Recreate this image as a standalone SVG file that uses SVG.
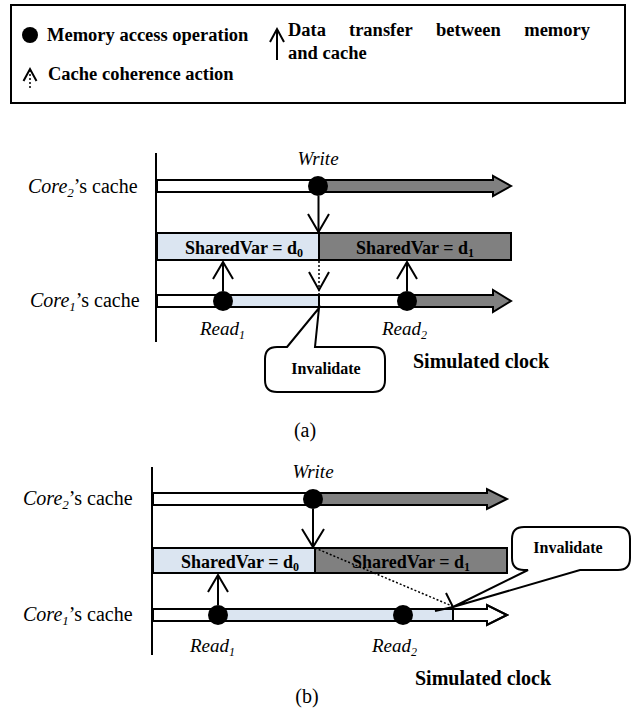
<svg xmlns="http://www.w3.org/2000/svg" width="634" height="711" viewBox="0 0 634 711">
<style>
text{font-family:"Liberation Serif","Times New Roman",serif;fill:#000}
.b{font-weight:bold}
.i{font-style:italic}
.lg{font-size:18.5px;font-weight:bold}
.core{font-size:20px}
.op{font-size:19px;font-style:italic}
.sv{font-size:18px;font-weight:bold}
.inv{font-size:16px;font-weight:bold}
.clk{font-size:20px;font-weight:bold}
.cap{font-size:20px}
.ln{stroke:#000;stroke-width:2;fill:none}
.dot{stroke:#000;stroke-width:1.5;fill:none;stroke-dasharray:2,2}
.hd{stroke:#000;stroke-width:2;fill:none;stroke-linejoin:miter}
.bar{stroke:#000;stroke-width:2}
.w{fill:#fff}
.lb{fill:#dbe5f1}
.g{fill:#808080}
.pt{fill:#000}
.co{fill:#fff;stroke:#000;stroke-width:2}
</style>

<g id="legend">
  <rect x="11" y="5" width="614" height="98" fill="#fff" stroke="#000" stroke-width="2"/>
  <circle class="pt" cx="30" cy="35" r="8"/>
  <text class="lg" x="47" y="41">Memory access operation</text>
  <line class="ln" x1="277" y1="60" x2="277" y2="29"/>
  <path class="hd" d="M270,42 L277,29 L284,42" stroke-width="1.8"/>
  <text class="lg" x="288" y="36">Data</text>
  <text class="lg" x="349" y="36">transfer</text>
  <text class="lg" x="436" y="36">between</text>
  <text class="lg" x="590" y="36" text-anchor="end">memory</text>
  <text class="lg" x="288" y="59">and cache</text>
  <line class="dot" x1="30" y1="88" x2="30" y2="70"/>
  <path class="hd" d="M23.5,81 L30,69 L36.5,81" stroke-width="1.6"/>
  <text class="lg" x="48" y="80">Cache coherence action</text>
</g>

<!-- Part (a) -->
<g id="a-axis">
  <line class="ln" x1="156" y1="153" x2="156" y2="342"/>
</g>
<g id="a-core2">
  <text class="core" x="28" y="193"><tspan class="i">Core</tspan><tspan class="i" font-size="13" dy="4">2</tspan><tspan dy="-4">’s cache</tspan></text>
  <rect class="bar w" x="157" y="180" width="161" height="12"/>
  <polygon class="bar g" points="318,180 493,180 493,176 511,186 493,196 493,192 318,192"/>
  <circle class="pt" cx="318" cy="186" r="10"/>
  <text class="op" x="318" y="165" text-anchor="middle" font-size="18">Write</text>
</g>
<g id="a-mem">
  <rect class="bar lb" x="157" y="233" width="162" height="27"/>
  <rect class="bar g" x="319" y="233" width="192" height="27"/>
  <text class="sv" x="244" y="254" text-anchor="middle">SharedVar = d<tspan font-size="12" dy="3">0</tspan></text>
  <text class="sv" x="415" y="254" text-anchor="middle">SharedVar = d<tspan font-size="12" dy="3">1</tspan></text>
</g>
<g id="a-core1">
  <text class="core" x="30" y="307"><tspan class="i">Core</tspan><tspan class="i" font-size="13" dy="4">1</tspan><tspan dy="-4">’s cache</tspan></text>
  <rect class="w" x="157" y="295" width="66" height="12"/>
  <rect class="lb" x="223" y="295" width="96" height="12"/>
  <rect class="w" x="319" y="295" width="88" height="12"/>
  <polygon class="g" points="407,295 493,295 493,290 511,301 493,312 493,307 407,307"/>
  <polygon class="bar" fill="none" points="157,295 493,295 493,290 511,301 493,312 493,307 157,307"/>
  <line class="ln" x1="319" y1="295" x2="319" y2="307"/>
  <circle class="pt" cx="223" cy="301" r="10"/>
  <circle class="pt" cx="407" cy="301" r="10"/>
  <text class="op" x="200" y="335">Read<tspan font-size="12" dy="4">1</tspan></text>
  <text class="op" x="382" y="335">Read<tspan font-size="12" dy="4">2</tspan></text>
</g>
<g id="a-connectors">
  <line class="ln" x1="318.5" y1="196" x2="318.5" y2="232"/>
  <path class="hd" d="M308,214 L318.5,232 L329,214"/>
  <line class="ln" x1="223" y1="291" x2="223" y2="262"/>
  <path class="hd" d="M213,279 L223,262 L233,279"/>
  <line class="ln" x1="407" y1="291" x2="407" y2="262"/>
  <path class="hd" d="M397,279 L407,262 L417,279"/>
  <line class="dot" x1="319" y1="261" x2="319" y2="294"/>
  <path class="hd" d="M309,272 L319,290 L329,272"/>
</g>
<g id="a-invalidate">
  <path class="co" d="M287,347 L319,308 L315,347 L373,347 Q385,347 385,359 L385,380 Q385,392 373,392 L277,392 Q265,392 265,380 L265,359 Q265,347 277,347 Z"/>
  <text class="inv" x="326" y="374" text-anchor="middle">Invalidate</text>
</g>
<g id="a-clock">
  <text class="clk" x="413" y="368">Simulated clock</text>
  <text class="cap" x="305" y="437" text-anchor="middle">(a)</text>
</g>

<!-- Part (b) -->
<g id="b-axis">
  <line class="ln" x1="152" y1="467" x2="152" y2="655"/>
</g>
<g id="b-core2">
  <text class="core" x="23" y="505"><tspan class="i">Core</tspan><tspan class="i" font-size="13" dy="4">2</tspan><tspan dy="-4">’s cache</tspan></text>
  <rect class="bar w" x="153" y="493" width="160" height="12"/>
  <polygon class="bar g" points="313,493 487,493 487,489 507,499 487,509 487,505 313,505"/>
  <circle class="pt" cx="313" cy="499" r="10"/>
  <text class="op" x="313" y="478" text-anchor="middle" font-size="18">Write</text>
</g>
<g id="b-mem">
  <rect class="bar lb" x="153" y="548" width="162" height="25"/>
  <rect class="bar g" x="315" y="548" width="192" height="25"/>
  <text class="sv" x="240" y="568" text-anchor="middle">SharedVar = d<tspan font-size="12" dy="3">0</tspan></text>
  <text class="sv" x="411" y="568" text-anchor="middle">SharedVar = d<tspan font-size="12" dy="3">1</tspan></text>
</g>
<g id="b-core1">
  <text class="core" x="23" y="621"><tspan class="i">Core</tspan><tspan class="i" font-size="13" dy="4">1</tspan><tspan dy="-4">’s cache</tspan></text>
  <rect class="w" x="153" y="609" width="65" height="12"/>
  <rect class="lb" x="218" y="609" width="235" height="12"/>
  <polygon class="bar w" points="453,609 487,609 487,605 507,615 487,625 487,621 453,621"/>
  <polygon class="bar" fill="none" points="153,609 487,609 487,605 507,615 487,625 487,621 153,621"/>
  <line class="ln" x1="453" y1="609" x2="453" y2="621"/>
  <circle class="pt" cx="218" cy="615" r="10"/>
  <circle class="pt" cx="403" cy="615" r="10"/>
  <text class="op" x="190" y="652">Read<tspan font-size="12" dy="4">1</tspan></text>
  <text class="op" x="372" y="652">Read<tspan font-size="12" dy="4">2</tspan></text>
</g>
<g id="b-connectors">
  <line class="ln" x1="313" y1="509" x2="313" y2="547"/>
  <path class="hd" d="M302,529 L313,547 L324,529"/>
  <line class="ln" x1="218" y1="605" x2="218" y2="575"/>
  <path class="hd" d="M208,592 L218,575 L228,592"/>
  <line class="dot" x1="315" y1="548" x2="452" y2="606"/>
  <path class="hd" d="M446,593 L453,607 L435,611" stroke-width="1.5"/>
</g>
<g id="b-invalidate">
  <path class="co" d="M524,527 L618,527 Q630,527 630,539 L630,558 Q630,570 618,570 L580,570 L453,607 L528,570 L524,570 Q512,570 512,558 L512,539 Q512,527 524,527 Z"/>
  <text class="inv" x="568" y="553" text-anchor="middle">Invalidate</text>
</g>
<g id="b-clock">
  <text class="clk" x="415" y="685">Simulated clock</text>
  <text class="cap" x="307" y="703" text-anchor="middle">(b)</text>
</g>
</svg>
